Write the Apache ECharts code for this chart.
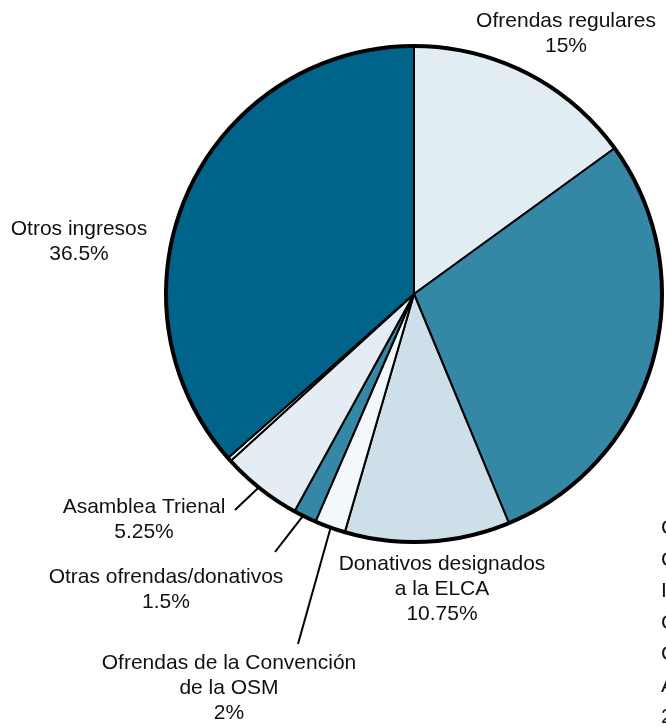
<!DOCTYPE html>
<html>
<head>
<meta charset="utf-8">
<script src="https://cdn.jsdelivr.net/npm/echarts@6/dist/echarts.min.js"></script>
<style>
html,body{margin:0;padding:0;background:#fff;}
#chart{width:666px;height:727px;}
</style>
</head>
<body>
<div id="chart"></div>
<script>
// ---- data ----
const categories = [
  'Ofrendas regulares',
  'Contribuciones\nCongregacionales\nIglesia\nCompromisos\nCampañas\nAportes',
  'Donativos designados\na la ELCA',
  'Ofrendas de la Convención\nde la OSM',
  'Otras ofrendas/donativos',
  'Asamblea Trienal',
  'Intereses',
  'Otros ingresos'
];
const values = [15, 28.75, 10.75, 2, 1.5, 5.25, 0.25, 36.5];

// ---- styles ----
const colors = ['#e1edf2', '#3587a6', '#cde0e9', '#f2f8fb', '#3587a6', '#e4edf3', '#ffffff', '#00648a'];
const CX = 414, CY = 294, R = 248;
// label centers [x, y], leader end [x, y] or null
const labelPos = [
  { x: 566, y: 34, line: null },
  { x: 661, y: 623, line: null, align: 'left', lh: 31.5 },
  { x: 442, y: 589, line: null },
  { x: 229, y: 688, line: [298, 644], r: 0.96 },
  { x: 166, y: 590, line: [275, 552], r: 0.96 },
  { x: 144, y: 520, line: [235, 510], r: 0.94 },
  null,
  { x: 79, y: 242, line: null }
];

const total = values.reduce((a, b) => a + b, 0);
const mids = [];
let acc = 0;
values.forEach(v => { mids.push((acc + v / 2) / total); acc += v; });

const fillData = categories.map((name, i) => ({
  name: name, value: values[i], itemStyle: { color: colors[i] }
}));

const labelData = categories.map((name, i) => {
  const lp = labelPos[i];
  return {
    name: name,
    value: values[i],
    label: lp ? { show: true, lineHeight: lp.lh || 25, align: lp.align || 'center' } : { show: false },
    labelLine: { show: !!(lp && lp.line) }
  };
});

const common = {
  type: 'pie',
  center: [CX, CY],
  radius: [0, R],
  startAngle: 90,
  clockwise: true,
  avoidLabelOverlap: false,
  minAngle: 0,
  emphasis: { disabled: true }
};

const chart = echarts.init(document.getElementById('chart'), null, { renderer: 'canvas' });
chart.setOption({
  animation: false,
  series: [
    Object.assign({}, common, {
      itemStyle: { borderColor: '#000', borderWidth: 2 },
      label: { show: false },
      labelLine: { show: false },
      data: fillData
    }),
    Object.assign({}, common, {
      silent: true,
      label: { show: false },
      labelLine: { show: false },
      itemStyle: { color: 'rgba(0,0,0,0)', borderColor: '#000', borderWidth: 4 },
      data: [{ value: 1, name: '' }]
    }),
    Object.assign({}, common, {
      silent: true,
      itemStyle: { color: 'rgba(0,0,0,0)', borderWidth: 0 },
      label: {
        show: true,
        position: 'outside',
        formatter: p => p.name + '\n' + p.value + '%',
        fontFamily: 'Liberation Sans, Arial, sans-serif',
        fontSize: 21,
        color: '#111',
        lineHeight: 25
      },
      labelLine: { lineStyle: { color: '#000', width: 2 }, length: 10, length2: 10 },
      labelLayout: function (params) {
        const i = params.dataIndex;
        const lp = labelPos[i];
        if (!lp) return {};
        const res = { x: lp.x, y: lp.y, align: lp.align || 'center', verticalAlign: 'middle' };
        if (lp.line) {
          const th = mids[i] * 2 * Math.PI;
          const r = R * lp.r;
          const s = [CX + r * Math.sin(th), CY - r * Math.cos(th)];
          res.labelLinePoints = [
            s,
            [(s[0] + lp.line[0]) / 2, (s[1] + lp.line[1]) / 2],
            lp.line
          ];
        }
        return res;
      },
      data: labelData
    })
  ]
});
</script>
</body>
</html>
